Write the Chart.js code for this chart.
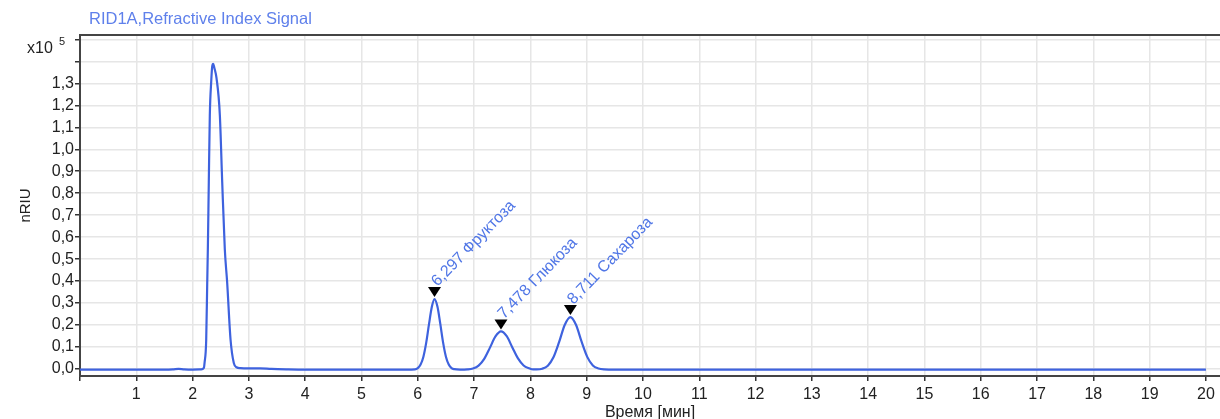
<!DOCTYPE html>
<html>
<head>
<meta charset="utf-8">
<script src="https://cdn.jsdelivr.net/npm/chart.js@4.4.0/dist/chart.umd.min.js"></script>
<style>
  body { margin: 0; background: #fff; }
  canvas { display: block; }
</style>
</head>
<body>
<canvas id="myChart" width="1220" height="419"></canvas>
<script>
// время, мин
const time = [
  0.0, 0.5, 1.0, 1.5, 1.65, 1.75, 1.85, 2.0, 2.15,
  2.2, 2.212, 2.242, 2.26, 2.271, 2.288, 2.306, 2.331, 2.349, 2.366,
  2.385, 2.425, 2.484, 2.526, 2.572, 2.614, 2.674, 2.732, 2.78, 2.85,
  3.0, 3.2, 3.4, 3.7, 4.0, 5.0, 5.8, 5.95,
  6.0, 6.05, 6.1, 6.15, 6.2, 6.25, 6.297, 6.35, 6.4, 6.45, 6.5, 6.55, 6.6, 6.65, 6.75,
  6.88, 6.98, 7.08, 7.18, 7.28, 7.38, 7.478, 7.58, 7.68, 7.78, 7.88, 7.98, 8.05,
  8.11, 8.21, 8.31, 8.41, 8.51, 8.61, 8.711, 8.81, 8.91, 9.01, 9.11, 9.21, 9.31, 9.5,
  10, 12, 14, 16, 18, 20
];
// сигнал, x10^5 nRIU
const signal = [
  -0.003, -0.003, -0.003, -0.003, -0.002, 0.0, -0.002, -0.003, -0.002,
  0.005, 0.027, 0.134, 0.394, 0.546, 0.851, 1.156, 1.309, 1.378, 1.389,
  1.372, 1.324, 1.156, 0.851, 0.546, 0.394, 0.134, 0.027, 0.008, 0.004,
  0.003, 0.003, 0.0, -0.002, -0.003, -0.003, -0.003, -0.002,
  0.004, 0.020, 0.056, 0.120, 0.205, 0.283, 0.318, 0.283, 0.205, 0.120, 0.056, 0.020, 0.004, -0.001, -0.003,
  -0.002, 0.002, 0.015, 0.046, 0.096, 0.148, 0.171, 0.149, 0.098, 0.048, 0.016, 0.003, -0.002,
  -0.002, 0.001, 0.015, 0.053, 0.122, 0.200, 0.236, 0.201, 0.124, 0.055, 0.016, 0.002, -0.002, -0.003,
  -0.003, -0.003, -0.003, -0.003, -0.003, -0.003
];

// пики
const peakTimes = [6.297, 7.478, 8.711];
const peakHeights = [0.318, 0.171, 0.236];
const peakNames = ['6,297 Фруктоза', '7,478 Глюкоза', '8,711 Сахароза'];

const xTicks = [1, 2, 3, 4, 5, 6, 7, 8, 9, 10, 11, 12, 13, 14, 15, 16, 17, 18, 19, 20];

const points = time.map((t, i) => ({ x: t, y: signal[i] }));

const FONT = '"Liberation Sans", Arial, sans-serif';

const extras = {
  id: 'extras',
  afterDraw(chart) {
    const c = chart.ctx;
    const a = chart.chartArea;
    const sx = chart.scales.x, sy = chart.scales.y;
    c.save();
    // верхняя рамка
    c.strokeStyle = '#444';
    c.lineWidth = 2;
    c.beginPath();
    c.moveTo(a.left - 1, a.top);
    c.lineTo(a.right, a.top);
    c.stroke();

    // заголовок
    c.fillStyle = 'rgb(95,128,235)';
    c.font = '16.5px ' + FONT;
    c.textAlign = 'left';
    c.textBaseline = 'alphabetic';
    c.fillText('RID1A,Refractive Index Signal', 89, 24);

    // множитель оси Y
    c.fillStyle = '#222';
    c.font = '16px ' + FONT;
    c.fillText('x10', 27, 53);
    c.font = '11px ' + FONT;
    c.fillText('5', 59, 45);

    // маркеры пиков
    c.font = '16px ' + FONT;
    peakTimes.forEach((t, i) => {
      const px = sx.getPixelForValue(t);
      const py = sy.getPixelForValue(peakHeights[i]);
      c.fillStyle = '#000';
      c.beginPath();
      c.moveTo(px - 6.5, py - 12);
      c.lineTo(px + 6.5, py - 12);
      c.lineTo(px, py - 2);
      c.closePath();
      c.fill();

      c.save();
      c.translate(px + 3, py - 12);
      c.rotate(-0.8);
      c.fillStyle = 'rgb(80,118,230)';
      c.fillText(peakNames[i], 0, 0);
      c.restore();
    });
    c.restore();
  }
};

const ctx = document.getElementById('myChart').getContext('2d');

const myChart = new Chart(ctx, {
  type: 'scatter',
  data: {
    datasets: [{
      label: 'RID1A',
      data: points,
      showLine: true,
      borderColor: 'rgb(62,98,222)',
      borderWidth: 2.2,
      pointRadius: 0,
      cubicInterpolationMode: 'monotone',
      clip: false
    }]
  },
  options: {
    responsive: false,
    animation: false,
    layout: { padding: { top: 35, left: 0, right: 0, bottom: 0 } },
    plugins: {
      legend: { display: false },
      tooltip: { enabled: false }
    },
    scales: {
      x: {
        type: 'linear',
        min: 0,
        max: 20.25,
        afterFit(scale) { scale.height = 43; },
        afterBuildTicks(scale) { scale.ticks = [0].concat(xTicks).map(v => ({ value: v })); },
        ticks: {
          padding: 4,
          color: '#222',
          font: { size: 16, family: FONT },
          maxRotation: 0,
          callback: v => (v === 0 ? '' : String(v))
        },
        grid: { color: '#e6e6e6', lineWidth: 1.5, tickColor: '#333', tickLength: 5, tickWidth: 1.5 },
        border: { color: '#444', width: 2 },
        title: {
          display: true,
          text: 'Время [мин]',
          color: '#222',
          font: { size: 16, family: FONT },
          padding: { top: 0, bottom: -3 }
        }
      },
      y: {
        min: -0.032,
        max: 1.52,
        afterFit(scale) { scale.width = 80; },
        ticks: {
          stepSize: 0.1,
          includeBounds: false,
          padding: 1,
          color: '#222',
          font: { size: 16, family: FONT },
          callback: v => {
            const r = Math.round(v * 10) / 10;
            if (r >= 1.4) return '';
            return r.toFixed(1).replace('.', ',');
          }
        },
        grid: { color: '#e6e6e6', lineWidth: 1.5, tickColor: '#333', tickLength: 5, tickWidth: 1.5 },
        border: { color: '#444', width: 2 },
        title: {
          display: true,
          text: 'nRIU',
          color: '#222',
          font: { size: 15, family: FONT },
          padding: { top: 17, bottom: 0 }
        }
      }
    }
  },
  plugins: [extras]
});
</script>
</body>
</html>
